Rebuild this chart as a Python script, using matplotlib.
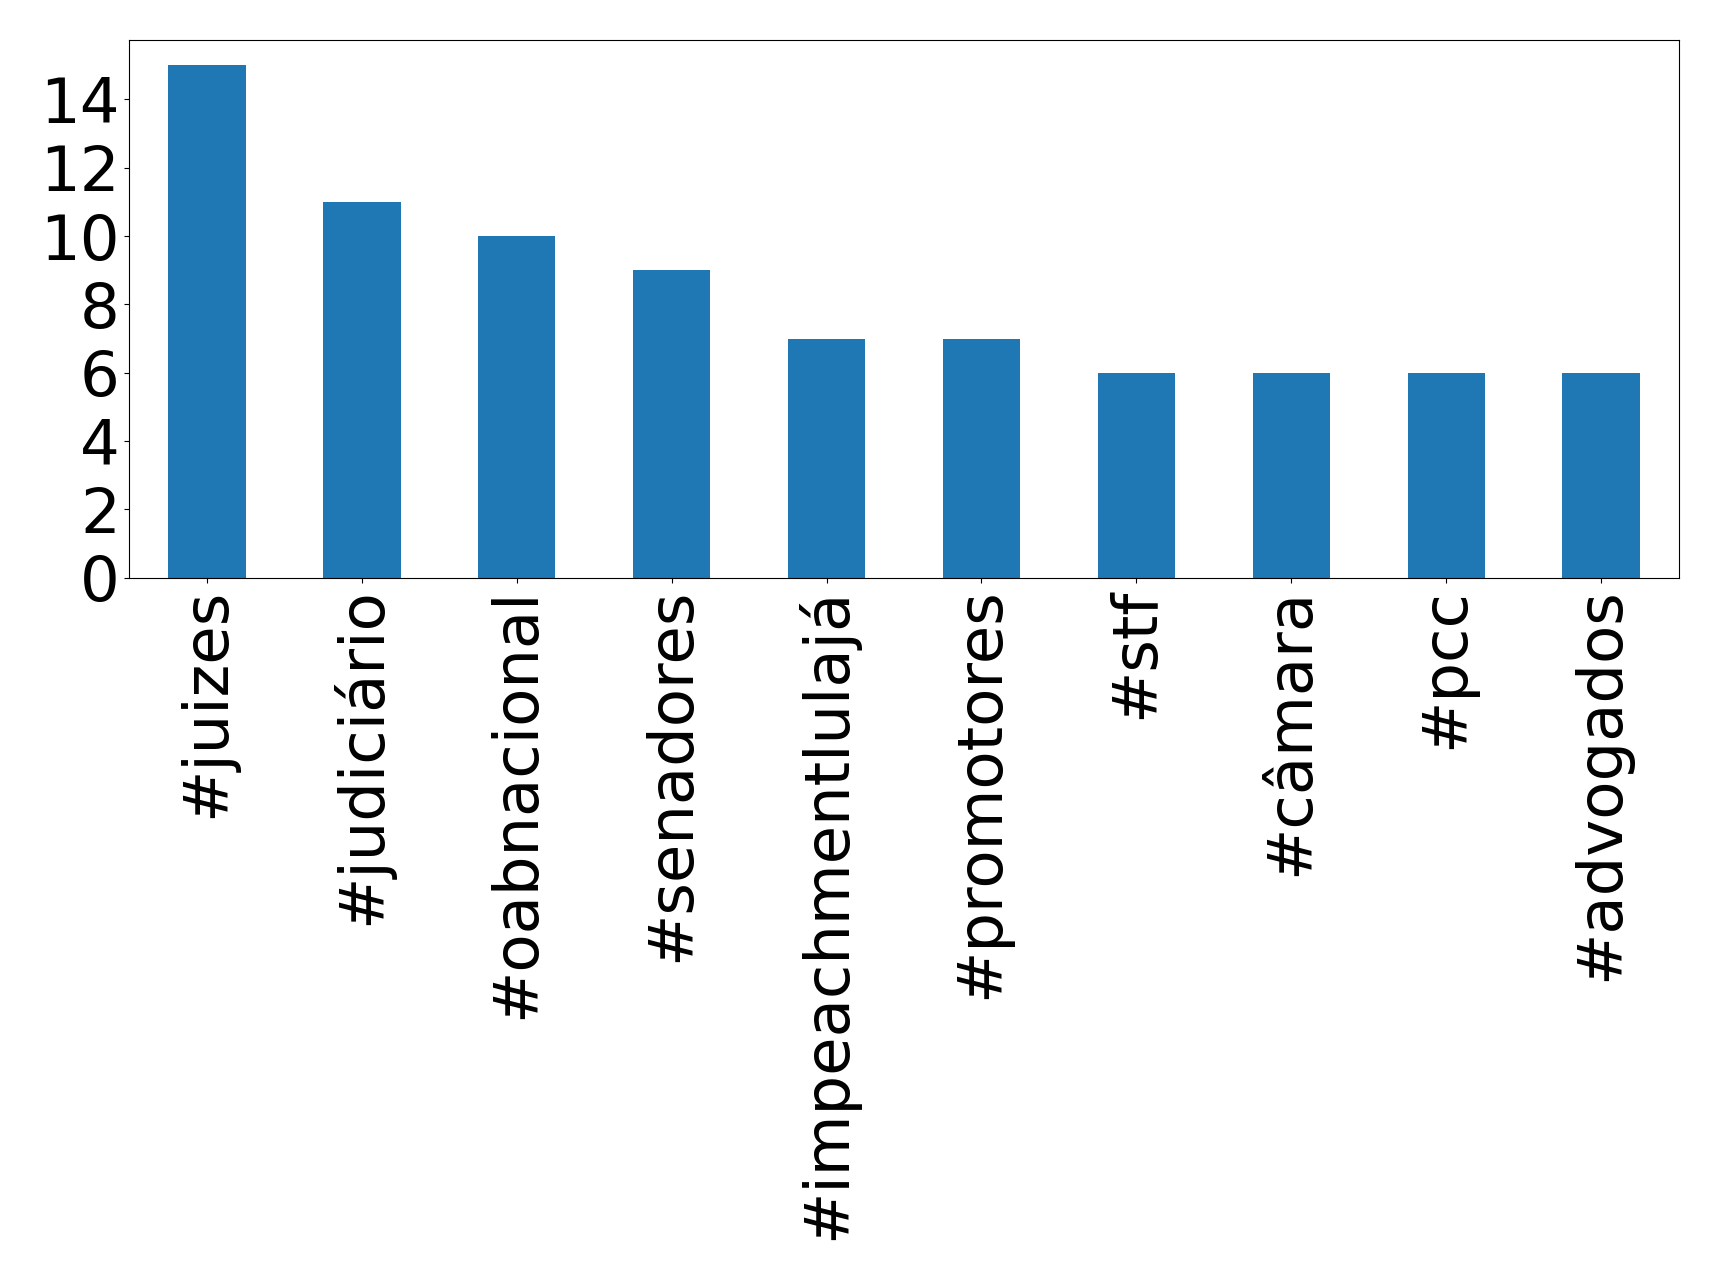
import matplotlib
matplotlib.use("Agg")
import matplotlib.pyplot as plt
import pandas as pd

categories = ["#juizes", "#judiciário", "#oabnacional", "#senadores", "#impeachmentlulajá",
              "#promotores", "#stf", "#câmara", "#pcc", "#advogados"]
values = [15, 11, 10, 9, 7, 7, 6, 6, 6, 6]

s = pd.Series(values, index=categories)
fig = plt.figure(figsize=(17.19, 12.8), dpi=100)
ax = fig.add_axes([0.0753, 0.5486, 0.9765 - 0.0753, 0.9691 - 0.5486])
s.plot(kind="bar", ax=ax, color="#1f77b4", fontsize=45)
fig.savefig("out.png", dpi=100)
